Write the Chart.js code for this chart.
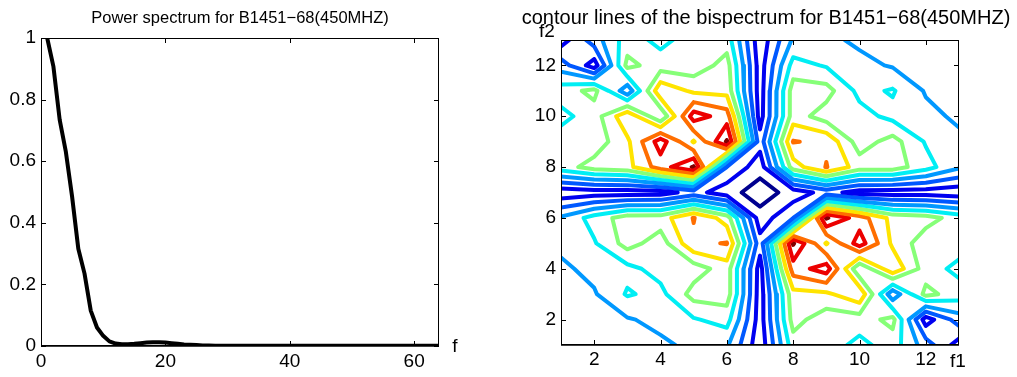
<!DOCTYPE html>
<html>
<head>
<meta charset="utf-8">
<script src="https://cdn.jsdelivr.net/npm/chart.js@4"></script>
<style>
  html, body { margin: 0; padding: 0; background: #fff; }
  #wrap { position: relative; width: 1017px; height: 377px; overflow: hidden; background: #fff; }
  canvas { position: absolute; top: 0; }
  #power { left: 0; }
  #bispec { left: 480px; }
</style>
</head>
<body>
<div id="wrap">
  <canvas id="power" width="480" height="377"></canvas>
  <canvas id="bispec" width="537" height="377"></canvas>
</div>
<script>
// power spectrum (left panel)
const freq = [1, 2, 3, 4, 5, 6, 7, 8, 9, 10, 11, 12, 13, 14, 15, 16,
  17, 18, 19, 20, 21, 22, 23, 24, 25, 26, 27, 28, 29, 30, 31, 32,
  33, 34, 35, 36, 37, 38, 39, 40, 41, 42, 43, 44, 45, 46, 47, 48,
  49, 50, 51, 52, 53, 54, 55, 56, 57, 58, 59, 60, 61, 62, 63, 64];
const power = [1.0, 0.907, 0.735, 0.63, 0.485, 0.316, 0.235, 0.115, 0.06, 0.033, 0.015, 0.008, 0.006, 0.006, 0.007, 0.009,
  0.011, 0.012, 0.012, 0.011, 0.009, 0.007, 0.005, 0.004, 0.003, 0.002, 0.002, 0.001, 0.001, 0.001, 0.001, 0.001,
  0.001, 0.001, 0.001, 0.001, 0.001, 0.001, 0.001, 0.001, 0.001, 0.001, 0.001, 0.001, 0.001, 0.001, 0.001, 0.001,
  0.001, 0.001, 0.001, 0.001, 0.001, 0.001, 0.001, 0.001, 0.001, 0.001, 0.001, 0.001, 0.001, 0.001, 0.001, 0.001];
const powerXTicks = [0, 20, 40, 60];
const powerYTicks = [0, 0.2, 0.4, 0.6, 0.8, 1];

// bispectrum magnitude (right panel), rows f2 = 13 .. 1, columns f1 = 1 .. 13
const f1 = [1, 2, 3, 4, 5, 6, 7, 8, 9, 10, 11, 12, 13];
const f2 = [13, 12, 11, 10, 9, 8, 7, 6, 5, 4, 3, 2, 1];
const bispec = [
  [1.0, 3.0, 5.0, 4.2, 5.0, 5.07, 0.82, 3.65, 3.75, 3.3, 3.2, 3.1, 3.0],
  [3.0, 1.0, 5.8, 5.0, 4.9, 5.9, 1.0, 4.9, 4.4, 3.8, 3.4, 3.2, 3.1],
  [5.0, 5.8, 2.8, 7.27, 6.3, 6.17, 1.0, 6.0, 5.9, 4.2, 4.6, 3.4, 3.2],
  [4.2, 5.0, 7.27, 4.6, 9.0, 8.0, 1.07, 6.0, 5.0, 4.9, 4.2, 3.8, 3.3],
  [5.0, 4.9, 6.3, 9.0, 6.4, 9.6, 1.9, 7.55, 7.3, 5.0, 5.9, 4.4, 3.75],
  [5.07, 5.9, 6.17, 8.0, 9.6, 2.5, 0.9, 6.0, 7.55, 6.0, 6.0, 4.9, 3.65],
  [0.82, 1.0, 1.0, 1.07, 1.9, 0.9, 0.0, 0.9, 1.9, 1.07, 1.0, 1.0, 0.82],
  [3.65, 4.9, 6.0, 6.0, 7.55, 6.0, 0.9, 2.5, 9.6, 8.0, 6.17, 5.9, 5.07],
  [3.75, 4.4, 5.9, 5.0, 7.3, 7.55, 1.9, 9.6, 6.4, 9.0, 6.3, 4.9, 5.0],
  [3.3, 3.8, 4.2, 4.9, 5.0, 6.0, 1.07, 8.0, 9.0, 4.6, 7.27, 5.0, 4.2],
  [3.2, 3.4, 4.6, 4.2, 5.9, 6.0, 1.0, 6.17, 6.3, 7.27, 2.8, 5.8, 5.0],
  [3.1, 3.2, 3.4, 3.8, 4.4, 4.9, 1.0, 5.9, 4.9, 5.0, 5.8, 1.0, 3.0],
  [3.0, 3.1, 3.2, 3.3, 3.75, 3.65, 0.82, 5.07, 5.0, 4.2, 5.0, 3.0, 1.0]
];
const levels = [0.5, 1.5, 2.5, 3.5, 4.5, 5.5, 6.5, 7.5, 8.5, 9.5];
const levelColors = ['#00008f', '#0000f0', '#0058ff', '#0098ff', '#00eef4',
  '#86ff78', '#ffe400', '#ff6e00', '#ec0000', '#800000'];
const bispecTicks = [2, 4, 6, 8, 10, 12];

const FONT = 'Liberation Sans, Arial, Helvetica, sans-serif';
Chart.defaults.font.family = FONT;
Chart.defaults.color = '#000';

// marching squares on the grid, one list of segments per level
function contourSegments(level) {
  const segs = [];
  const pt = (i1, j1, i2, j2) => {
    const v1 = bispec[j1][i1], v2 = bispec[j2][i2];
    const t = (level - v1) / (v2 - v1);
    return {
      key: i1 + ',' + j1 + '-' + i2 + ',' + j2,
      x: f1[i1] + t * (f1[i2] - f1[i1]),
      y: f2[j1] + t * (f2[j2] - f2[j1])
    };
  };
  for (let j = 0; j < f2.length - 1; j++) {
    for (let i = 0; i < f1.length - 1; i++) {
      const a = bispec[j][i], b = bispec[j][i + 1], c = bispec[j + 1][i + 1], d = bispec[j + 1][i];
      const ha = a > level, hb = b > level, hc = c > level, hd = d > level;
      const E = [
        ha !== hb ? pt(i, j, i + 1, j) : null,
        hb !== hc ? pt(i + 1, j, i + 1, j + 1) : null,
        hd !== hc ? pt(i, j + 1, i + 1, j + 1) : null,
        ha !== hd ? pt(i, j, i, j + 1) : null
      ];
      const hit = E.filter(Boolean);
      if (hit.length === 2) {
        segs.push(hit);
      } else if (hit.length === 4) {
        const mid = (a + b + c + d) / 4 > level;
        if (mid === ha) segs.push([E[0], E[1]], [E[2], E[3]]);
        else segs.push([E[3], E[0]], [E[1], E[2]]);
      }
    }
  }
  return segs;
}

// join segments into polylines
function chain(segs) {
  const byKey = new Map();
  segs.forEach((s, n) => s.forEach(p => {
    if (!byKey.has(p.key)) byKey.set(p.key, []);
    byKey.get(p.key).push(n);
  }));
  const used = new Array(segs.length).fill(false);
  const lines = [];
  const walk = (n, start) => {
    const line = [start];
    let cur = n, from = start;
    while (cur !== undefined && !used[cur]) {
      used[cur] = true;
      const s = segs[cur];
      const next = s[0].key === from.key ? s[1] : s[0];
      line.push(next);
      cur = byKey.get(next.key).find(m => !used[m]);
      from = next;
    }
    return line;
  };
  segs.forEach((s, n) => s.forEach(p => {
    if (!used[n] && byKey.get(p.key).length === 1) lines.push(walk(n, p));
  }));
  segs.forEach((s, n) => { if (!used[n]) lines.push(walk(n, s[0])); });
  return lines;
}

// inward ticks, box and loose text labels
const frame = {
  id: 'frame',
  afterDatasetsDraw(chart, args, opts) {
    const { ctx, chartArea: a } = chart;
    const x = chart.scales.x, y = chart.scales.y;
    ctx.save();
    ctx.strokeStyle = '#000';
    ctx.lineWidth = 1;
    ctx.beginPath();
    const L = 5;
    x.ticks.forEach(t => {
      const px = Math.round(x.getPixelForValue(t.value)) + 0.5;
      ctx.moveTo(px, a.top); ctx.lineTo(px, a.top + L);
      ctx.moveTo(px, a.bottom); ctx.lineTo(px, a.bottom - L);
    });
    y.ticks.forEach(t => {
      const py = Math.round(y.getPixelForValue(t.value)) + 0.5;
      ctx.moveTo(a.left, py); ctx.lineTo(a.left + L, py);
      ctx.moveTo(a.right, py); ctx.lineTo(a.right - L, py);
    });
    ctx.stroke();
    ctx.strokeRect(a.left + 0.5, a.top + 0.5, a.right - a.left - 1, a.bottom - a.top - 1);
    ctx.lineWidth = 1.5;
    ctx.beginPath();
    ctx.moveTo(a.left, a.bottom); ctx.lineTo(a.right, a.bottom);
    ctx.stroke();
    ctx.fillStyle = '#000';
    ctx.textBaseline = 'middle';
    (opts.texts || []).forEach(t => {
      ctx.font = t.size + 'px ' + FONT;
      ctx.textAlign = t.align || 'center';
      ctx.fillText(t.text, t.x, t.y);
    });
    ctx.restore();
  }
};

const tickFont = { size: 19 };

new Chart(document.getElementById('power'), {
  type: 'line',
  data: {
    datasets: [{
      data: freq.map((f, i) => ({ x: f, y: power[i] })),
      borderColor: '#000',
      borderWidth: 4,
      pointRadius: 0,
      borderJoinStyle: 'round'
    }]
  },
  options: {
    responsive: false,
    animation: false,
    events: [],
    layout: { padding: { top: 38, right: 41, left: 0, bottom: 0 } },
    plugins: {
      legend: { display: false },
      tooltip: { enabled: false },
      frame: {
        texts: [
          { text: 'Power spectrum for B1451\u221268(450MHZ)', x: 240, y: 18, size: 16.5 },
          { text: 'f', x: 455, y: 347, size: 19 }
        ]
      }
    },
    scales: {
      x: {
        type: 'linear', min: 0, max: 64,
        grid: { display: false, drawTicks: false },
        border: { display: false },
        afterBuildTicks: s => { s.ticks = powerXTicks.map(v => ({ value: v })); },
        afterFit: s => { s.height = 31; },
        ticks: { font: tickFont, padding: 4, maxRotation: 0, autoSkip: false, callback: v => String(v) }
      },
      y: {
        type: 'linear', min: 0, max: 1,
        grid: { display: false, drawTicks: false },
        border: { display: false },
        afterBuildTicks: s => { s.ticks = powerYTicks.map(v => ({ value: v })); },
        afterFit: s => { s.width = 41; },
        ticks: { font: tickFont, padding: 5, autoSkip: false, callback: v => String(v) }
      }
    }
  },
  plugins: [frame]
});

const contourSets = levels.map((lev, k) => {
  const lines = chain(contourSegments(lev));
  const data = [];
  lines.forEach(l => {
    l.forEach(p => data.push({ x: p.x, y: p.y }));
    data.push({ x: null, y: null });
  });
  return {
    data,
    showLine: true,
    spanGaps: false,
    borderColor: levelColors[k],
    borderWidth: 4,
    pointRadius: 0,
    borderCapStyle: 'round',
    borderJoinStyle: 'round'
  };
});

new Chart(document.getElementById('bispec'), {
  type: 'scatter',
  data: { datasets: contourSets },
  options: {
    responsive: false,
    animation: false,
    events: [],
    layout: { padding: { top: 40, right: 58, left: 0, bottom: 0 } },
    plugins: {
      legend: { display: false },
      tooltip: { enabled: false },
      frame: {
        texts: [
          { text: 'contour lines of the bispectrum for B1451\u221268(450MHZ)', x: 286, y: 18, size: 20 },
          { text: 'f2', x: 67, y: 32, size: 19 },
          { text: 'f1', x: 478, y: 362, size: 19 }
        ]
      }
    },
    scales: {
      x: {
        type: 'linear', min: 1, max: 13,
        grid: { display: false, drawTicks: false },
        border: { display: false },
        afterBuildTicks: s => { s.ticks = bispecTicks.map(v => ({ value: v })); },
        afterFit: s => { s.height = 32; },
        ticks: { font: tickFont, padding: 3, maxRotation: 0, autoSkip: false, callback: v => String(v) }
      },
      y: {
        type: 'linear', min: 1, max: 13,
        grid: { display: false, drawTicks: false },
        border: { display: false },
        afterBuildTicks: s => { s.ticks = bispecTicks.map(v => ({ value: v })); },
        afterFit: s => { s.width = 81; },
        ticks: { font: tickFont, padding: 5, autoSkip: false, callback: v => String(v) }
      }
    }
  },
  plugins: [frame]
});
</script>
</body>
</html>
